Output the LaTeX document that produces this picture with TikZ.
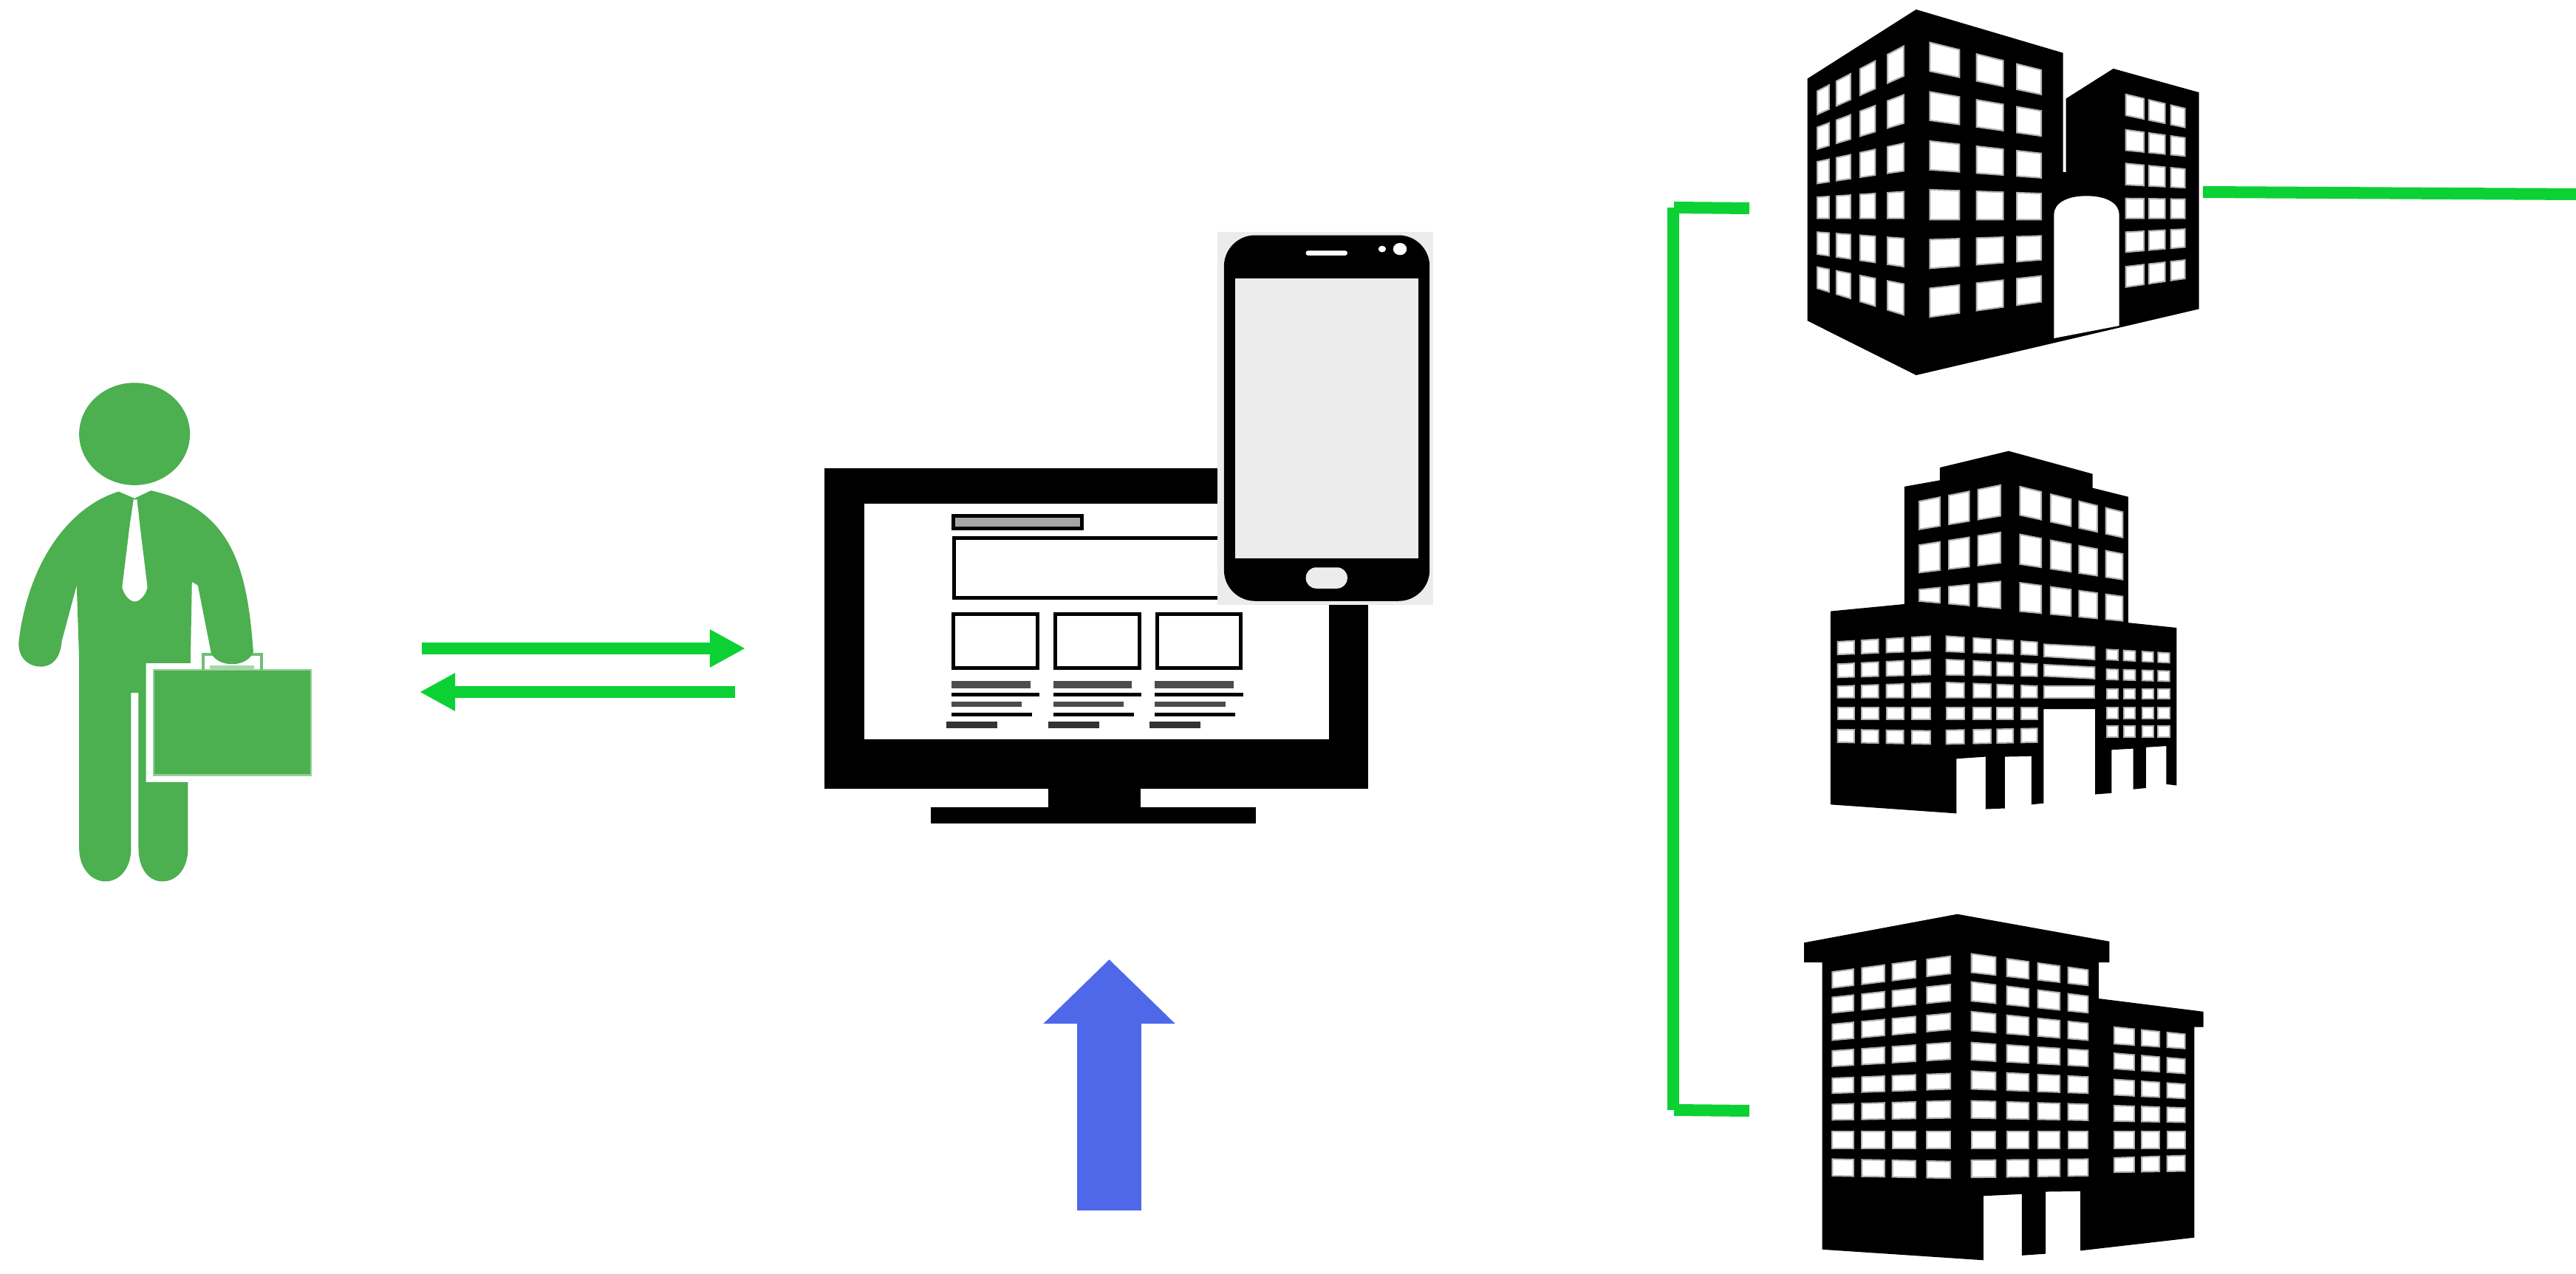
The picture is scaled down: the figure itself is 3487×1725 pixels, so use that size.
\documentclass[tikz,border=0pt]{standalone}
\usetikzlibrary{arrows.meta}
\definecolor{mangreen}{HTML}{4CAF50}
\definecolor{linkgreen}{HTML}{0CD135}
\definecolor{upblue}{HTML}{4F68EA}
\definecolor{phonegray}{HTML}{ECECEC}
\tikzset{
  greenline/.style={linkgreen,line width=.16cm},
  greenarrow/.style={linkgreen,line width=.16cm,-{Triangle[length=.48cm,width=.48cm]}},
  uparrow/.style={upblue,line width=.86cm,-{Triangle[length=.87cm,width=1.73cm]}},
  winfill/.style={fill=white,draw=gray!60,line width=.02cm},
  boxline/.style={draw=black,line width=.05cm}
}
% windows of one face: reference x, columns, rows (top/slope/bottom/slope)
\newcommand{\winface}[3]{%
  \foreach \xa/\xb in {#2}
    \foreach \ta/\sa/\ba/\sb in {#3}
      \filldraw[winfill] (\xa,{\ta+\sa*(\xa-#1)}) -- (\xb,{\ta+\sa*(\xb-#1)}) -- (\xb,{\ba+\sb*(\xb-#1)}) -- (\xa,{\ba+\sb*(\xa-#1)}) -- cycle;
}
\begin{document}
\begin{tikzpicture}[x=.01cm,y=-.01cm]
\useasboundingbox (0,0) rectangle (3487,1725);

% Man with briefcase
\begin{scope}[shift={(0,480)},xscale={1050/1568},yscale={760/1568}]
\fill[mangreen] (272,222) ellipse (112 and 143);
\filldraw[fill=mangreen,draw=mangreen!60,line width=.02cm] (311,880) rectangle (628,1175);
\draw[mangreen!80,line width=.04cm] (410,880) -- (410,838) -- (528,838) -- (528,880);
\fill[mangreen!50] (424,868) rectangle (514,880);
\fill[mangreen] (240,383) .. controls (150,420) and (60,560) .. (38,800)
  .. controls (35,850) and (60,872) .. (82,872) .. controls (105,872) and (122,850) .. (125,800)
  -- (155,645) -- (160,850) -- (160,1380)
  .. controls (160,1435) and (185,1472) .. (213,1472) .. controls (242,1472) and (265,1435) .. (265,1380)
  -- (265,945) -- (280,945) -- (280,1380)
  .. controls (280,1435) and (300,1472) .. (328,1472) .. controls (358,1472) and (380,1435) .. (380,1380)
  -- (380,1195) -- (295,1195) -- (295,862) -- (385,862) -- (388,635) -- (400,645) -- (427,835)
  .. controls (435,855) and (450,865) .. (470,865) .. controls (490,865) and (508,850) .. (512,830)
  .. controls (500,600) and (470,430) .. (305,380) -- (272,402) -- cycle;
% Tie
\fill[white] (270,405) -- (262,480) -- (247,650) .. controls (250,670) and (262,690) .. (272,690)
  .. controls (284,690) and (295,670) .. (298,650) -- (283,480) -- (277,405) -- cycle;
\end{scope}

% Arrows between man and screen
\coordinate (manout) at (571,878);
\coordinate (screenin) at (1009,878);
\coordinate (screenout) at (995,937);
\coordinate (manin) at (568,937);
\draw[greenarrow] (manout) -- (screenin);
\draw[greenarrow] (screenout) -- (manin);

% Monitor
\begin{scope}[shift={(1080,290)},xscale={900/1568},yscale={860/1568}]
\fill[black] (63,628) rectangle (1345,1418);
\fill[white] (157,715) rectangle (1253,1296);
\fill[black] (590,1418) rectangle (808,1465);
\fill[black] (314,1465) rectangle (1080,1505);
\filldraw[fill=gray!70,boxline] (367,745) rectangle (670,775);
\draw[boxline] (368,800) rectangle (1100,948);
\foreach \dx in {0,240,480} {
  \draw[boxline] (367+\dx,987) rectangle (565+\dx,1120);
  \draw[line width=.1cm,black!70] (362+\dx,1162) -- (548+\dx,1162);
  \draw[line width=.05cm,black] (362+\dx,1186) -- (570+\dx,1186);
  \draw[line width=.07cm,black!70] (362+\dx,1210) -- (528+\dx,1210);
  \draw[line width=.05cm,black] (362+\dx,1236) -- (552+\dx,1236);
  \draw[line width=.09cm,black!80] (350+\dx,1260) -- (470+\dx,1260);
}
\end{scope}

% Phone
\begin{scope}[shift={(1080,290)},xscale={900/1568},yscale={860/1568}]
\fill[phonegray] (990,43) rectangle (1498,965);
\fill[black,rounded corners=.42cm] (1005,52) rectangle (1490,955);
\fill[phonegray] (1032,158) rectangle (1464,850);
\fill[white,rounded corners=.03cm] (1198,90) rectangle (1296,102);
\fill[white] (1378,86) ellipse (9 and 8);
\fill[white] (1420,86) ellipse (16 and 15);
\fill[phonegray,rounded corners=.14cm] (1198,872) rectangle (1296,924);
\end{scope}

% Blue arrow
\coordinate (upstart) at (1501.5,1639);
\coordinate (upend) at (1501.5,1299);
\draw[uparrow] (upstart) -- (upend);

% Bracket and outgoing line
\coordinate (brtop) at (2265,281);
\coordinate (brbot) at (2265,1503);
\coordinate (toptick) at (2368,282);
\coordinate (bottick) at (2368,1504);
\coordinate (bldgout) at (2982,260);
\coordinate (rightend) at (3487,263);
\draw[greenline] (brtop) -- (brbot);
\draw[greenline] (brtop) ++(1,0) -- (toptick);
\draw[greenline] (brbot) ++(1,0) -- (bottick);
\draw[greenline] (bldgout) -- (rightend);

% Building 1
\begin{scope}[shift={(2400,0)},xscale={620/1568},yscale={530/1568}]
\fill[black] (118,315) -- (490,38) -- (993,212) -- (993,690) -- (1003,690) -- (1003,395) -- (1165,275)
  -- (1458,370) -- (1458,1238) -- (490,1503) -- (118,1285) -- cycle;
\winface{152}{152/192,217/265,298/350,392/447}{365/-.61/458/-.52,510/-.44/597/-.35,648/-.25/735/-.17,790/-.075/875/0,930/.085/1018/.17,1070/.23/1155/.36}
\winface{537}{537/638,697/788,835/918}{170/.29/285/.245,368/.2/482/.165,565/.13/680/.085,760/.04/880/0,960/-.04/1075/-.09,1155/-.13/1270/-.16}
\winface{1208}{1208/1270,1287/1342,1362/1410}{378/.28/462/.24,520/.16/602/.115,655/.11/740/.06,795/.015/875/0,930/-.06/1010/-.1,1068/-.13/1150/-.17}
% Door
\fill[white] (962,1355) -- (962,860) .. controls (962,815) and (1005,785) .. (1073,785)
  .. controls (1142,785) and (1185,815) .. (1185,860) -- (1185,1305) -- cycle;
\end{scope}

% Building 2
\begin{scope}[shift={(2440,590)},xscale={540/1568},yscale={540/1568}]
\fill[black] (400,200) -- (540,175) -- (540,125) -- (810,60) -- (1140,150) -- (1140,205) -- (1280,240)
  -- (1280,735) -- (1470,755) -- (1470,1375) -- (1430,1370) -- (1430,1220) -- (1350,1225) -- (1350,1385)
  -- (1300,1390) -- (1300,1230) -- (1215,1235) -- (1215,1405) -- (1150,1410) -- (1150,1075) -- (948,1075)
  -- (948,1445) -- (900,1450) -- (900,1260) -- (795,1262) -- (795,1465) -- (720,1468) -- (720,1262)
  -- (605,1270) -- (605,1485) -- (110,1450) -- (110,690) -- (400,662) -- cycle;
\winface{459}{459/540,575/655,690/778}{258/-.2/368/-.166,430/-.157/538/-.12,605/-.1/650/.09}
\winface{855}{855/938,975/1055,1087/1158,1192/1258}{200/.248/312/.218,388/.19/505/.15,578/.134/690/.094}
\winface{138}{138/203,232/298,330/397,430/502}{810/-.06/860/-.04,898/-.05/950/-.03,985/-.035/1030/0,1068/0/1115/0,1155/.015/1205/.02}
\winface{565}{565/635,672/740,765/828,860/922}{788/.067/848/.04,880/.05/940/.015,970/.04/1030/0,1068/0/1115/0,1158/-.02/1212/-.02}
\winface{950}{950/1148}{820/.05/868/.06,900/.05/945/.05,985/0/1030/0}
\winface{1195}{1195/1240,1262/1308,1335/1378,1398/1442}{840/.06/880/.05,918/.03/958/.03,995/0/1035/0,1068/0/1112/0,1140/0/1185/0}
\end{scope}

% Building 3
\begin{scope}[shift={(2420,1220)},xscale={600/1568},yscale={505/1568}]
\fill[black] (58,175) -- (600,55) -- (1138,170) -- (1138,258) -- (1100,258) -- (1100,410) -- (1470,465)
  -- (1470,530) -- (1438,530) -- (1438,1415) -- (1035,1470) -- (1035,1220) -- (912,1222) -- (912,1483)
  -- (828,1490) -- (828,1232) -- (692,1240) -- (692,1510) -- (122,1465) -- (122,258) -- (58,258) -- cycle;
\winface{158}{158/232,262/342,370/452,492/575}{298/-.158/365/-.144,405/-.13/470/-.12,518/-.11/585/-.108,630/-.084/695/-.072,745/-.048/808/-.043,855/-.036/920/-.02,970/0/1040/0,1085/.024/1155/.024}
\winface{650}{650/735,775/852,885/962,992/1062}{222/.165/300/.133,340/.146/420/.121,465/.12/545/.097,595/.08/668/.065,715/.06/790/.044,840/.036/912/.024,968/0/1040/0,1090/-.012/1162/-.017}
\winface{1155}{1155/1225,1252/1315,1342/1405}{530/.12/600/.08,640/.1/705/.08,750/.08/815/.06,860/.04/925/.02,970/0/1040/0,1080/-.04/1140/-.02}
\end{scope}
\end{tikzpicture}
\end{document}
